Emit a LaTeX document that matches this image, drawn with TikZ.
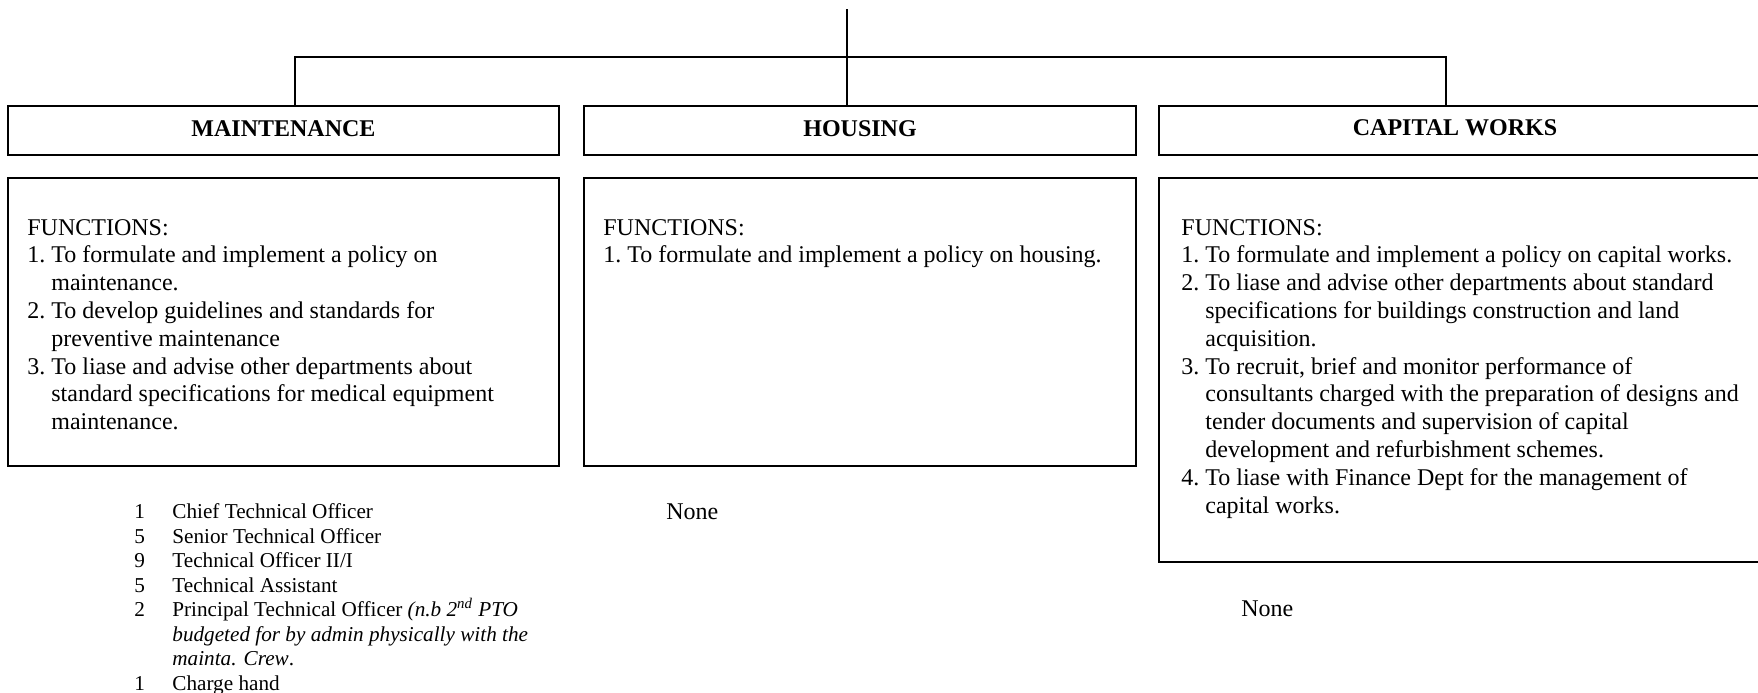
\documentclass[tikz,border=0pt]{standalone}
\usepackage{fontspec}
\setmainfont{Liberation Serif}
\begin{document}
\begin{tikzpicture}[x=0.5pt,y=-0.5pt,
  frame/.style={draw, line width=1pt, rectangle, inner sep=0pt, anchor=north west, minimum height=24.5pt},
  link/.style={line width=0.9pt},
  head/.style={font=\fontsize{12}{13.8}\selectfont\bfseries, inner sep=0pt, yshift=1pt},
  body/.style={font=\fontsize{12}{13.9}\selectfont, align=left, inner sep=0pt, anchor=base west},
  staff/.style={font=\fontsize{10.6}{12.25}\selectfont, align=left, inner sep=0pt, anchor=base west},
  note/.style={font=\fontsize{12}{13.8}\selectfont, inner sep=0pt, anchor=base west}]
\useasboundingbox (0,0) rectangle (1758,692);
\clip (0,0) rectangle (1758,692);

% department title boxes
\node[frame, minimum width=275.5pt] (mainthdr) at (7,105) {};
\node[frame, minimum width=276pt]   (houshdr)  at (583,105) {};
\node[frame, minimum width=310pt]   (caphdr)   at (1158,105) {};
\node[head] (mainttitle) at (mainthdr.center) {MAINTENANCE};
\node[head] (houstitle)  at (houshdr.center)  {HOUSING};
\node[head] (captitle)   at (1455,129.5)      {CAPITAL WORKS};

% function boxes
\node[frame, minimum width=275.5pt, minimum height=144pt] (maintfn) at (7,177) {};
\node[frame, minimum width=276pt,   minimum height=144pt] (housfn)  at (583,177) {};
\node[frame, minimum width=310pt,   minimum height=192pt] (capfn)   at (1158,177) {};

% reporting lines
\coordinate (top)  at (847,9);
\coordinate (busL) at (295,57);
\coordinate (busR) at (1446,57);
\draw[link] (top) -- (top |- houshdr.north);
\draw[link] (busL |- mainthdr.north) -- (busL) -- (busR) -- (busR |- caphdr.north);

% functions (each block is placed by the baseline of its last line)
\node[body] (mainttext) at (27,429.6) {FUNCTIONS:\\
1.\ To formulate and implement a policy on\\
\phantom{1.\ }maintenance.\\
2.\ To develop guidelines and standards for\\
\phantom{2.\ }preventive maintenance\\
3.\ To liase and advise other departments about\\
\phantom{3.\ }standard specifications for medical equipment\\
\phantom{3.\ }maintenance.};

\node[body] (houstext) at (603,262.8) {FUNCTIONS:\\
1.\ To formulate and implement a policy on housing.};

\node[body] (captext) at (1181,513) {FUNCTIONS:\\
1.\ To formulate and implement a policy on capital works.\\
2.\ To liase and advise other departments about standard\\
\phantom{2.\ }specifications for buildings construction and land\\
\phantom{2.\ }acquisition.\\
3.\ To recruit, brief and monitor performance of\\
\phantom{3.\ }consultants charged with the preparation of designs and\\
\phantom{3.\ }tender documents and supervision of capital\\
\phantom{3.\ }development and refurbishment schemes.\\
4.\ To liase with Finance Dept for the management of\\
\phantom{4.\ }capital works.};

% staffing
\node[staff] (maintstaff) at (134,690) {\makebox[19pt][l]{1}Chief Technical Officer\\
\makebox[19pt][l]{5}Senior Technical Officer\\
\makebox[19pt][l]{9}Technical Officer II/I\\
\makebox[19pt][l]{5}Technical Assistant\\
\makebox[19pt][l]{2}Principal Technical Officer \textit{(n.b 2\textsuperscript{nd} PTO}\\
\hspace*{19pt}\textit{budgeted for by admin physically with the}\\
\hspace*{19pt}\textit{mainta. Crew}.\\
\makebox[19pt][l]{1}Charge hand};
\node[note] (housstaff) at (666,519) {None};
\node[note] (capstaff)  at (1241,616) {None};
\end{tikzpicture}
\end{document}
